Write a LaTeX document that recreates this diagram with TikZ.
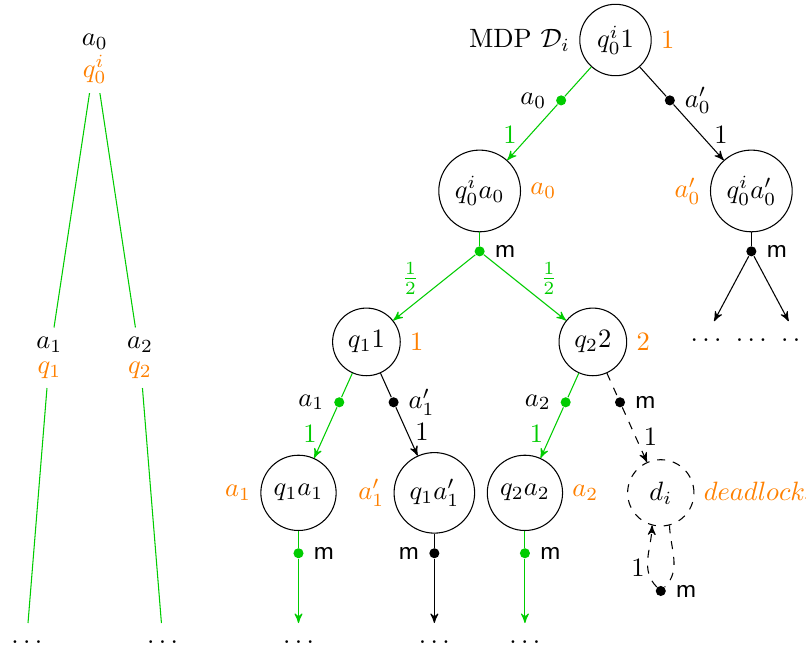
\documentclass[tikz,border=0pt]{standalone}
\usetikzlibrary{arrows,calc}
\begin{document}
\begin{tikzpicture}[
	>=stealth',
	state/.style={circle,draw,minimum size=25pt},
	act/.style={circle,fill,inner sep=0pt,minimum size=3.8pt},
	dts/.style={anchor=base,text height=1ex},
	prob/.style={inner sep=1pt},
	win/.style={green!80!black}
	]
	\useasboundingbox (-8.155,0.53) rectangle (2.524,-8.136);
	
	% strategy tree
	\node[align=center] (t0) at (-6.9,-0.25) {$a_0$\\\textcolor{orange}{$q_0^i$}};
	\node[align=center] (t1) at (-7.5,-4.21) {$a_1$\\[-2.5pt]\textcolor{orange}{$q_1$}};
	\node[align=center] (t2) at (-6.3,-4.21) {$a_2$\\[-2.5pt]\textcolor{orange}{$q_2$}};
	\node[dts] (t3) at (-7.8,-8) {$\dots$};
	\node[dts] (t4) at (-6.0,-8) {$\dots$};
	\draw[win] (t0) -- (t1); \draw[win] (t0) -- (t2);
	\draw[win] (t1) -- (t3); \draw[win] (t2) -- (t4);
	
	% MDP
	\node[state,label=left:MDP $\mathcal{D}_i$,label={[text=orange]right:$1$}] (s0) at (0,0) {$q_0^i1$};
	\node[state,label={[text=orange]right:$a_0$}] (s1) at (-1.8,-2) {$q_0^ia_0$};
	\node[state,label={[text=orange]left:$a_0'$}] (s2) at (1.8,-2) {$q_0^ia_0'$};
	\node[state,label={[text=orange]right:$1$}] (s3) at (-3.3,-4) {$q_11$};
	\node[state,label={[text=orange]right:$2$}] (s4) at (-0.3,-4) {$q_22$};
	\node[state,label={[text=orange]left:$a_1$}] (s5) at (-4.2,-6) {$q_1a_1$};
	\node[state,label={[text=orange]left:$a_1'$}] (s6) at (-2.4,-6) {$q_1a_1'$};
	\node[state,label={[text=orange]right:$a_2$}] (s7) at (-1.2,-6) {$q_2a_2$};
	\node[state,dashed,label={[text=orange]right:$deadlock_i$}] (s8) at (0.6,-6) {$d_i$};
	
	\node[act,win,label=left:$a_0$] (c1) at ($(s0)!0.4!(s1)$) {};
	\node[act,label=right:$a_0'$] (c2) at ($(s0)!0.4!(s2)$) {};
	\node[act,win,label=right:\textsf{m}] (c3) at (-1.8,-2.8) {};
	\node[act,label=right:\textsf{m}] (c4) at (1.8,-2.8) {};
	\node[act,win,label=left:$a_1$] (c5) at ($(s3)!0.4!(s5)$) {};
	\node[act,label=right:$a_1'$] (c6) at ($(s3)!0.4!(s6)$) {};
	\node[act,win,label=left:$a_2$] (c7) at ($(s4)!0.4!(s7)$) {};
	\node[act,label=right:\textsf{m}] (c8) at ($(s4)!0.4!(s8)$) {};
	\node[act,win,label=right:\textsf{m}] (c9) at (-4.2,-6.8) {};
	\node[act,label=left:\textsf{m}] (c10) at (-2.4,-6.8) {};
	\node[act,win,label=right:\textsf{m}] (c11) at (-1.2,-6.8) {};
	\node[act,label=right:\textsf{m}] (c12) at (0.6,-7.3) {};
	
	\node[dts] (e1) at (1.2,-4) {$\dots$};
	\node[dts] (e2) at (1.8,-4) {$\dots$};
	\node[dts] (e3) at (2.4,-4) {$\dots$};
	\node[dts] (e4) at (-4.2,-8) {$\dots$};
	\node[dts] (e5) at (-2.4,-8) {$\dots$};
	\node[dts] (e6) at (-1.2,-8) {$\dots$};
	
	\draw[win] (s0) -- (c1); \draw[win,->] (c1) -- node[prob,near end,above left] {$1$} (s1);
	\draw (s0) -- (c2); \draw[->] (c2) -- node[prob,near end,above right] {$1$} (s2);
	\draw[win] (s1) -- (c3);
	\draw[win,->] (c3) -- node[prob,pos=0.65,above left] {$\frac{1}{2}$} (s3);
	\draw[win,->] (c3) -- node[prob,pos=0.65,above right] {$\frac{1}{2}$} (s4);
	\draw (s2) -- (c4); \draw[->] (c4) -- (e1); \draw[->] (c4) -- (e3);
	\draw[win] (s3) -- (c5); \draw[win,->] (c5) -- node[prob,near end,above left] {$1$} (s5);
	\draw (s3) -- (c6); \draw[->] (c6) -- node[prob,near end,above right] {$1$} (s6);
	\draw[win] (s4) -- (c7); \draw[win,->] (c7) -- node[prob,near end,above left] {$1$} (s7);
	\draw[dashed] (s4) -- (c8); \draw[dashed,->] (c8) -- node[prob,near end,above right] {$1$} (s8);
	\draw[win] (s5) -- (c9); \draw[win,->] (c9) -- (e4);
	\draw (s6) -- (c10); \draw[->] (c10) -- (e5);
	\draw[win] (s7) -- (c11); \draw[win,->] (c11) -- (e6);
	\draw[dashed] (s8.-75) to[out=-88,in=45] (c12);
	\draw[dashed,->] (c12) to[out=135,in=-92] node[prob,pos=0.35,left] {$1$} (s8.-105);
\end{tikzpicture}
\end{document}
